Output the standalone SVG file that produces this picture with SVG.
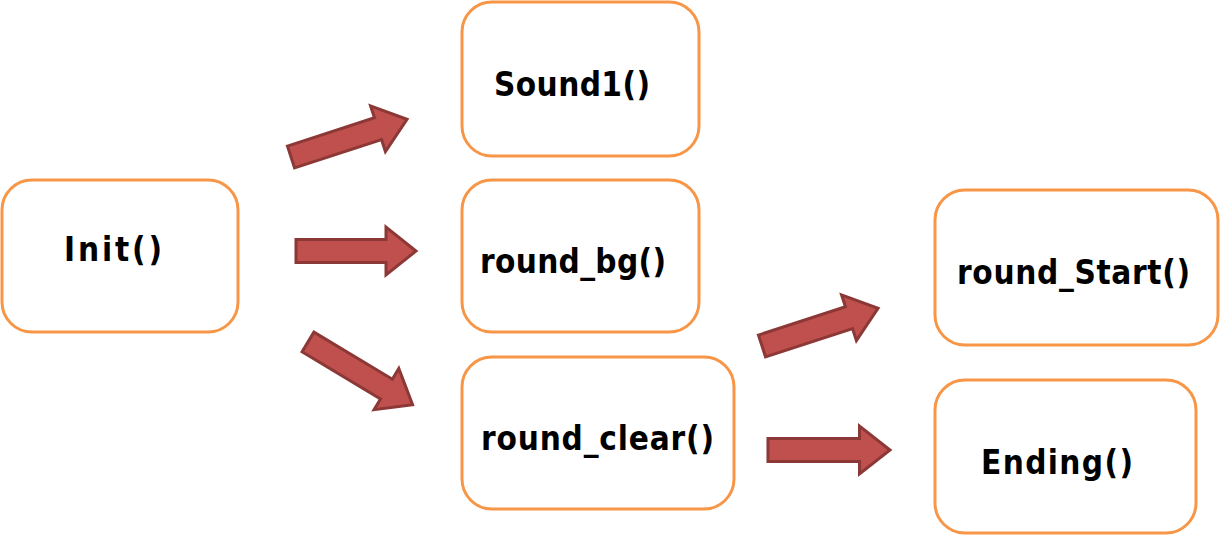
<svg xmlns="http://www.w3.org/2000/svg" xmlns:xlink="http://www.w3.org/1999/xlink" width="1221" height="536" viewBox="0 0 1221 536">
<style>
.box{fill:#ffffff;stroke:#F79646;stroke-width:3}
.lbl{font-family:"DejaVu Sans Condensed","Liberation Sans Narrow","Liberation Sans",Arial,sans-serif;font-stretch:condensed;font-weight:bold;font-size:33px;fill:#000000}
.arr{fill:#C0504D;stroke:#8C3836;stroke-width:3;stroke-linejoin:miter}
</style>
<defs>
<path id="arrowShape" d="M0,-11.5 L90,-11.5 L90,-24 L120,0 L90,24 L90,11.5 L0,11.5 Z"/>
</defs>
<rect width="1221" height="536" fill="#ffffff"/>
<g id="connectors">
<use xlink:href="#arrowShape" class="arr" transform="translate(291,157) rotate(-18) scale(1.0167,1)"/>
<use xlink:href="#arrowShape" class="arr" transform="translate(296,251)"/>
<use xlink:href="#arrowShape" class="arr" transform="translate(308,342) rotate(31) scale(1.0167,1)"/>
<use xlink:href="#arrowShape" class="arr" transform="translate(762,346) rotate(-18) scale(1.0167,1)"/>
<use xlink:href="#arrowShape" class="arr" transform="translate(768,450) scale(1.0167,1)"/>
</g>
<g id="node-init">
<rect class="box" x="2" y="180" width="236" height="152" rx="30"/>
<text class="lbl" x="64" y="261" textLength="98" lengthAdjust="spacing">Init()</text>
</g>
<g id="node-sound1">
<rect class="box" x="462" y="2" width="237" height="154" rx="30"/>
<text class="lbl" x="494" y="96" textLength="156" lengthAdjust="spacing">Sound1()</text>
</g>
<g id="node-round-bg">
<rect class="box" x="462" y="180" width="237" height="152" rx="30"/>
<text class="lbl" x="480" y="273" textLength="186" lengthAdjust="spacing">round_bg()</text>
</g>
<g id="node-round-clear">
<rect class="box" x="462" y="357" width="272" height="152" rx="30"/>
<text class="lbl" x="481" y="450" textLength="233" lengthAdjust="spacing">round_clear()</text>
</g>
<g id="node-round-start">
<rect class="box" x="935" y="190" width="283" height="155" rx="30"/>
<text class="lbl" x="957" y="284" textLength="233" lengthAdjust="spacing">round_Start()</text>
</g>
<g id="node-ending">
<rect class="box" x="935" y="380" width="261" height="153" rx="30"/>
<text class="lbl" x="981" y="474" textLength="152" lengthAdjust="spacing">Ending()</text>
</g>
</svg>
